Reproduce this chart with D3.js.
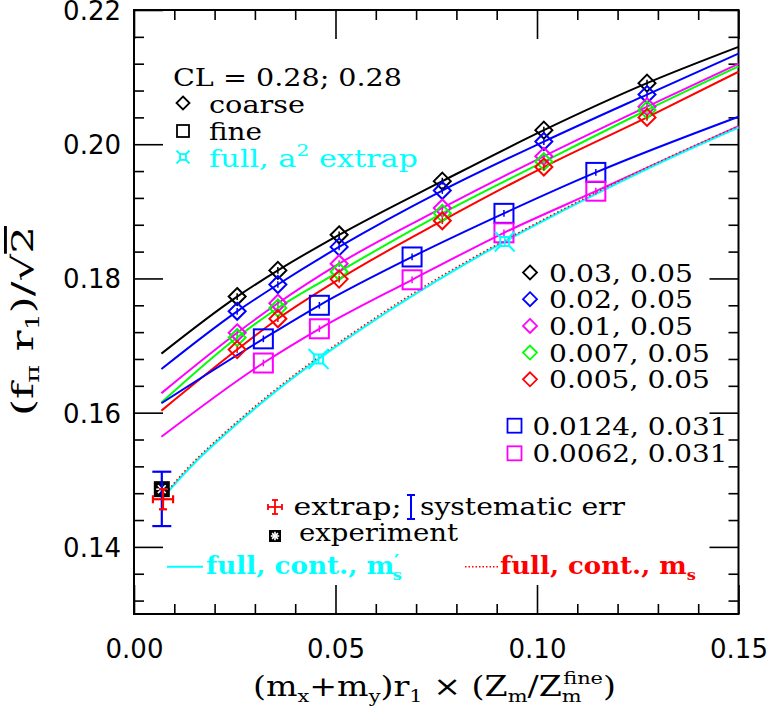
<!DOCTYPE html>
<html><head><meta charset="utf-8">
<script src="https://cdn.jsdelivr.net/npm/d3@7"></script>
<style>body{margin:0;background:#fff}svg{display:block}</style>
</head><body>
<svg id="c" width="767" height="709"></svg>
<script>
// ---------- data ----------
const xTickValues = [0, 0.05, 0.10, 0.15];
const xTickLabels = ["0.00", "0.05", "0.10", "0.15"];
const xMinorTicks = [0.01,0.02,0.03,0.04,0.06,0.07,0.08,0.09,0.11,0.12,0.13,0.14];
const yTickValues = [0.14, 0.16, 0.18, 0.20, 0.22];
const yTickLabels = ["0.14", "0.16", "0.18", "0.20", "0.22"];
const yMinorTicks = [0.132,0.136,0.144,0.148,0.152,0.156,0.164,0.168,0.172,0.176,0.184,0.188,0.192,0.196,0.204,0.208,0.212,0.216];

// coarse ensembles (diamonds)
const coarseLabels = ["0.03,  0.05", "0.02,  0.05", "0.01,  0.05", "0.007,  0.05", "0.005,  0.05"];
const coarseColors = ["#000000", "#0000ff", "#ff00ff", "#00ff00", "#ff0000"];
const coarseX = [0.0256, 0.0357, 0.0509, 0.0765, 0.1017, 0.1273];
const coarseBlack   = [0.1773, 0.1812, 0.1865, 0.1945, 0.2021, 0.2091];
const coarseBlue    = [0.1751, 0.1791, 0.1847, 0.1931, 0.2004, 0.2074];
const coarseMagenta = [0.1719, 0.1763, 0.1822, 0.1905, 0.1982, 0.2056];
const coarseGreen   = [0.1712, 0.1756, 0.1810, 0.1897, 0.1974, 0.2051];
const coarseRed     = [0.1694, 0.1740, 0.1799, 0.1886, 0.1966, 0.2040];
const coarseErr = 0.0005;

// fit curves for coarse ensembles
const coarseCurveX = [0.0068, 0.0256, 0.0357, 0.0509, 0.0765, 0.1017, 0.1273, 0.15];
const curveBlack   = [0.1688, 0.1773, 0.1812, 0.1865, 0.1945, 0.2021, 0.2091, 0.2145];
const curveBlue    = [0.1665, 0.1751, 0.1791, 0.1847, 0.1931, 0.2004, 0.2074, 0.2135];
const curveMagenta = [0.1629, 0.1719, 0.1763, 0.1822, 0.1905, 0.1982, 0.2056, 0.2120];
const curveGreen   = [0.1615, 0.1712, 0.1756, 0.1810, 0.1897, 0.1974, 0.2051, 0.2116];
const curveRed     = [0.1603, 0.1694, 0.1740, 0.1799, 0.1886, 0.1966, 0.2040, 0.2108];

// fine ensembles (squares)
const fineLabels = ["0.0124,  0.031", "0.0062,  0.031"];
const fineColors = ["#0000ff", "#ff00ff"];
const fineX = [0.0321, 0.0460, 0.0690, 0.0918, 0.1146];
const fineBlue    = [0.1710, 0.1760, 0.1832, 0.1897, 0.1958];
const fineMagenta = [0.1674, 0.1725, 0.1798, 0.1868, 0.1930];
const fineErr = 0.0005;
const fineCurveX = [0.0068, 0.0321, 0.0460, 0.0690, 0.0918, 0.1146, 0.15];
const curveFineBlue    = [0.1614, 0.1710, 0.1760, 0.1832, 0.1897, 0.1958, 0.2041];
const curveFineMagenta = [0.1564, 0.1674, 0.1725, 0.1798, 0.1868, 0.1930, 0.2027];

// full QCD, a^2 extrapolated points (cyan)
const fullX = [0.0458, 0.0920];
const fullY = [0.1680, 0.1855];
const fullErr = 0.0006;

// continuum curves
const contX      = [0.0068, 0.009, 0.012, 0.016, 0.021, 0.027, 0.035, 0.0458, 0.060, 0.075, 0.092, 0.110, 0.130, 0.150];
const contCyan   = [0.1471, 0.1486, 0.1506, 0.1531, 0.1559, 0.1591, 0.1631, 0.1680, 0.1739, 0.1796, 0.1855, 0.1912, 0.1971, 0.2025];
const contRedDot = [0.1471, 0.1488, 0.1509, 0.1534, 0.1562, 0.1594, 0.1634, 0.1683, 0.1742, 0.1799, 0.1857, 0.1914, 0.1973, 0.2027];

// extrapolated physical point, systematic error, experiment
const extrap = {x: 0.0072, y: 0.1471, xerr: 0.0025, yerr: 0.0015};
const systematic = {x: 0.0069, lo: 0.1431, hi: 0.1512};
const experiment = {x: 0.0069, y: 0.1486};

// ---------- drawing ----------
const X0 = 134, X1 = 738.5, Y0 = 10, Y1 = 614;
const x = d3.scaleLinear().domain([0, 0.15]).range([X0, X1]);
const y = d3.scaleLinear().domain([0.13, 0.22]).range([Y1, Y0]);
const svg = d3.select("#c");
const SERIF = "'DejaVu Serif', 'Liberation Serif', serif";
const SANS = "'DejaVu Sans', sans-serif";

function tickAxis(gen, tr, vals, size) {
  const g = svg.append("g").attr("transform", tr)
    .call(gen.tickValues(vals).tickSize(size).tickFormat(""));
  g.select(".domain").remove();
  g.selectAll(".tick line").attr("stroke", "#000").attr("stroke-width", 1.6);
  return g;
}
tickAxis(d3.axisBottom(x), `translate(0,${Y1})`, xTickValues, -29);
tickAxis(d3.axisBottom(x), `translate(0,${Y1})`, xMinorTicks, -10);
tickAxis(d3.axisTop(x), `translate(0,${Y0})`, xTickValues, -29);
tickAxis(d3.axisTop(x), `translate(0,${Y0})`, xMinorTicks, -10);
tickAxis(d3.axisLeft(y), `translate(${X0},0)`, yTickValues, -29);
tickAxis(d3.axisLeft(y), `translate(${X0},0)`, yMinorTicks, -10);
tickAxis(d3.axisRight(y), `translate(${X1},0)`, yTickValues, -29);
tickAxis(d3.axisRight(y), `translate(${X1},0)`, yMinorTicks, -10);

// tick labels
const xl = svg.append("g").attr("transform", `translate(0,${Y1})`)
  .call(d3.axisBottom(x).tickValues(xTickValues).tickSize(0).tickPadding(25.5)
        .tickFormat((d, i) => xTickLabels[i]));
xl.select(".domain").remove();
xl.attr("font-family", SANS).attr("font-size", 26);
const yl = svg.append("g").attr("transform", `translate(${X0},0)`)
  .call(d3.axisLeft(y).tickValues(yTickValues).tickSize(0).tickPadding(13)
        .tickFormat((d, i) => yTickLabels[i]));
yl.select(".domain").remove();
yl.attr("font-family", SANS).attr("font-size", 26);
yl.selectAll("text").attr("dy", "0.36em");

// frame
svg.append("rect").attr("x", X0).attr("y", Y0).attr("width", X1 - X0).attr("height", Y1 - Y0)
  .attr("fill", "none").attr("stroke", "#000").attr("stroke-width", 2);

const plot = svg.append("g");
const line = d3.line().x(d => x(d[0])).y(d => y(d[1])).curve(d3.curveMonotoneX);

const coarseCurves = [curveBlack, curveBlue, curveMagenta, curveGreen, curveRed];
coarseCurves.forEach((c, i) => {
  plot.append("path").datum(coarseCurveX.map((v, j) => [v, c[j]]))
    .attr("d", line).attr("fill", "none").attr("stroke", coarseColors[i]).attr("stroke-width", 2);
});
[curveFineBlue, curveFineMagenta].forEach((c, i) => {
  plot.append("path").datum(fineCurveX.map((v, j) => [v, c[j]]))
    .attr("d", line).attr("fill", "none").attr("stroke", fineColors[i]).attr("stroke-width", 2);
});
plot.append("path").datum(contX.map((v, j) => [v, contCyan[j]]))
  .attr("d", line).attr("fill", "none").attr("stroke", "#00ffff").attr("stroke-width", 2.2);
plot.append("path").datum(contX.map((v, j) => [v, contRedDot[j]]))
  .attr("d", line).attr("fill", "none").attr("stroke", "#ff0000").attr("stroke-width", 1.5)
  .attr("stroke-dasharray", "1.5,2.5");

function diamond(g, cx, cy, r, col, sw) {
  g.append("path").attr("d", `M${cx},${cy - r}L${cx + r},${cy}L${cx},${cy + r}L${cx - r},${cy}Z`)
    .attr("fill", "none").attr("stroke", col).attr("stroke-width", sw || 2);
}
function square(g, cx, cy, r, col, sw) {
  g.append("rect").attr("x", cx - r).attr("y", cy - r).attr("width", 2 * r).attr("height", 2 * r)
    .attr("fill", "none").attr("stroke", col).attr("stroke-width", sw || 2);
}
function fullSym(g, cx, cy, r, col, sw) {
  const s = r * 0.45;
  g.append("rect").attr("x", cx - s).attr("y", cy - s).attr("width", 2 * s).attr("height", 2 * s)
    .attr("fill", "none").attr("stroke", col).attr("stroke-width", sw || 2);
  [[-1, -1], [1, -1], [1, 1], [-1, 1]].forEach(([a, b]) => {
    g.append("line").attr("x1", cx + a * s).attr("y1", cy + b * s)
      .attr("x2", cx + a * r).attr("y2", cy + b * r)
      .attr("stroke", col).attr("stroke-width", sw || 2);
  });
}
function vErr(g, xv, yv, e, col) {
  g.append("line").attr("x1", x(xv)).attr("x2", x(xv)).attr("y1", y(yv - e)).attr("y2", y(yv + e))
    .attr("stroke", col).attr("stroke-width", 1.5);
}
const coarseSets = [coarseBlack, coarseBlue, coarseMagenta, coarseGreen, coarseRed];
coarseSets.forEach((s, i) => {
  s.forEach((v, j) => {
    diamond(plot, x(coarseX[j]), y(v), 8.5, coarseColors[i]);
    vErr(plot, coarseX[j], v, coarseErr, coarseColors[i]);
  });
});
[fineBlue, fineMagenta].forEach((s, i) => {
  s.forEach((v, j) => {
    square(plot, x(fineX[j]), y(v), 9.5, fineColors[i]);
    vErr(plot, fineX[j], v, fineErr, fineColors[i]);
  });
});
fullX.forEach((v, j) => {
  fullSym(plot, x(v), y(fullY[j]), 10, "#00ffff");
  vErr(plot, v, fullY[j], fullErr, "#00ffff");
});

function expSym(g, cx, cy, r) {
  g.append("rect").attr("x", cx - r).attr("y", cy - r).attr("width", 2 * r).attr("height", 2 * r)
    .attr("fill", "#000");
  const a = r * 0.7;
  [[0, -a, 0, a], [-a, 0, a, 0], [-a * 0.7, -a * 0.7, a * 0.7, a * 0.7], [-a * 0.7, a * 0.7, a * 0.7, -a * 0.7]]
    .forEach(([x1, y1, x2, y2]) => g.append("line").attr("x1", cx + x1).attr("y1", cy + y1)
      .attr("x2", cx + x2).attr("y2", cy + y2).attr("stroke", "#fff").attr("stroke-width", 1.6));
}
expSym(plot, x(experiment.x), y(experiment.y), 8);

function capBar(g, xv, lo, hi, cap, col, sw) {
  const xp = x(xv);
  g.append("line").attr("x1", xp).attr("x2", xp).attr("y1", y(lo)).attr("y2", y(hi)).attr("stroke", col).attr("stroke-width", sw);
  [lo, hi].forEach(v => g.append("line").attr("x1", xp - cap).attr("x2", xp + cap).attr("y1", y(v)).attr("y2", y(v))
    .attr("stroke", col).attr("stroke-width", sw));
}
capBar(plot, systematic.x, systematic.lo, systematic.hi, 9.5, "#0000ff", 2.2);

function extrapSym(g, cx, cy, hx, hy, cap, sw) {
  const col = "#ff0000";
  g.append("line").attr("x1", cx - hx).attr("x2", cx + hx).attr("y1", cy).attr("y2", cy).attr("stroke", col).attr("stroke-width", sw);
  g.append("line").attr("x1", cx).attr("x2", cx).attr("y1", cy - hy).attr("y2", cy + hy).attr("stroke", col).attr("stroke-width", sw);
  [-1, 1].forEach(s => {
    g.append("line").attr("x1", cx + s * hx).attr("x2", cx + s * hx).attr("y1", cy - cap).attr("y2", cy + cap).attr("stroke", col).attr("stroke-width", sw);
    g.append("line").attr("x1", cx - cap).attr("x2", cx + cap).attr("y1", cy + s * hy).attr("y2", cy + s * hy).attr("stroke", col).attr("stroke-width", sw);
  });
}
extrapSym(plot, x(extrap.x), y(extrap.y), x(extrap.x + extrap.xerr) - x(extrap.x),
  y(extrap.y - extrap.yerr) - y(extrap.y), 4, 2.2);

// ---------- text helpers ----------
function rich(g, xp, yp, parts, opts) {
  const t = g.append("text").attr("x", xp).attr("y", yp)
    .attr("font-family", SERIF).attr("font-size", opts.size || 24)
    .attr("fill", opts.color || "#000");
  if (opts.weight) t.attr("font-weight", opts.weight);
  if (opts.anchor) t.attr("text-anchor", opts.anchor);
  parts.forEach(p => {
    const ts = t.append("tspan").text(p.t);
    if (p.dy) ts.attr("dy", p.dy);
    if (p.dx) ts.attr("dx", p.dx);
    if (p.size) ts.attr("font-size", p.size);
    if (p.deco) ts.attr("text-decoration", p.deco);
  });
  if (opts.len) t.attr("textLength", opts.len).attr("lengthAdjust", "spacingAndGlyphs");
  return t;
}

const leg = svg.append("g");
rich(leg, 173, 86, [{t: "CL = 0.28; 0.28"}], {len: 229});
diamond(leg, 183, 103, 6.5, "#000", 1.8);
rich(leg, 209, 113, [{t: "coarse"}], {len: 96});
square(leg, 183, 131, 6, "#000", 1.8);
rich(leg, 209, 140, [{t: "fine"}], {len: 53});
fullSym(leg, 183, 157, 6.5, "#00ffff", 1.8);
rich(leg, 209, 167, [{t: "full, a"}, {t: "2", size: 16, dy: -11}, {t: " extrap", dy: 11}], {len: 209, color: "#00ffff"});

const coarseLegY = [272.5, 299.2, 325.9, 352.6, 379.3];
const coarseLegLen = [144, 144, 144, 161, 161];
coarseLabels.forEach((lab, i) => {
  diamond(leg, 530, coarseLegY[i], 7, coarseColors[i], 1.8);
  rich(leg, 549, coarseLegY[i] + 9, [{t: lab}], {len: coarseLegLen[i]});
});
const fineLegY = [425.7, 453.3];
fineLabels.forEach((lab, i) => {
  square(leg, 514.5, fineLegY[i], 7, fineColors[i], 1.8);
  rich(leg, 532.5, fineLegY[i] + 9, [{t: lab}], {len: 195});
});

extrapSym(leg, 275, 507, 7, 7, 3, 1.8);
rich(leg, 293.5, 515, [{t: "extrap;"}], {len: 108});
leg.append("line").attr("x1", 411).attr("x2", 411).attr("y1", 495).attr("y2", 519).attr("stroke", "#0000ff").attr("stroke-width", 2);
[495, 519].forEach(v => leg.append("line").attr("x1", 407).attr("x2", 415).attr("y1", v).attr("y2", v).attr("stroke", "#0000ff").attr("stroke-width", 2));
rich(leg, 420, 515, [{t: "systematic err"}], {len: 205});
expSym(leg, 275, 536, 6);
rich(leg, 299, 541, [{t: "experiment"}], {len: 159});
leg.append("line").attr("x1", 167).attr("x2", 203).attr("y1", 566.7).attr("y2", 566.7).attr("stroke", "#00ffff").attr("stroke-width", 2);
rich(leg, 206, 574, [{t: "full, cont., m"}, {t: "′", size: 18, dy: -6}, {t: "s", size: 15, dx: -6, dy: 12}],
  {len: 196, color: "#00ffff", weight: "bold"});
leg.append("line").attr("x1", 465).attr("x2", 498).attr("y1", 566.7).attr("y2", 566.7).attr("stroke", "#ff0000")
  .attr("stroke-width", 1.5).attr("stroke-dasharray", "1.5,2");
rich(leg, 500, 574, [{t: "full, cont., m"}, {t: "s", size: 15, dy: 6}], {len: 196, color: "#ff0000", weight: "bold"});

// axis titles
const xt = rich(svg, 253, 696, [
  {t: "(m"}, {t: "x", size: 17, dy: 6}, {t: "+m", dy: -6}, {t: "y", size: 17, dy: 6}, {t: ")r", dy: -6},
  {t: "1", size: 17, dy: 6}, {t: " × (Z", dy: -6}, {t: "m", size: 17, dy: 6}, {t: "/Z", dy: -6},
  {t: "m", size: 17, dy: 6}, {t: "fine", size: 17, dx: -15, dy: -18}, {t: ")", dy: 12}
], {size: 27, len: 363});

const yt = svg.append("g").attr("transform", "translate(33,321) rotate(-90)");
rich(yt, 0, 0, [
  {t: "(f"}, {t: "π", size: 18, dy: 6}, {t: "  r", dy: -6}, {t: "1", size: 18, dy: 6},
  {t: ")/√", dy: -6}, {t: "2", deco: "overline"}
], {size: 29, anchor: "middle", len: 190});
</script>
</body></html>
